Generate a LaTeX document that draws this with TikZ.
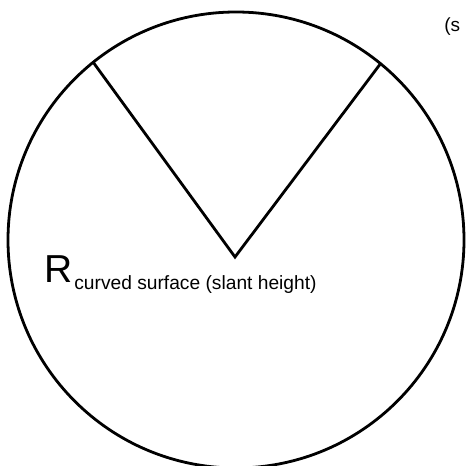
\documentclass[tikz,border=0pt]{standalone}
\usepackage{fontspec}
\setmainfont{Liberation Sans}
\begin{document}
\begin{tikzpicture}[x=1bp,y=-1bp,line width=2.8bp,
  lbl/.style={inner sep=0pt,anchor=base west}]
\useasboundingbox (0,0) rectangle (466,466);
\coordinate (c) at (236,240);
\draw (c) circle[radius=228];
\coordinate (v) at (235,257);
\coordinate (a) at (93,62);
\coordinate (b) at (381,63);
\draw (a) -- (v) -- (b);
\node[lbl] (r) at (43,282) {\fontsize{39bp}{39bp}\selectfont R};
\node[lbl] (sub) at (r.base east) [xshift=-1bp,yshift=-7bp] {\fontsize{19.2bp}{20bp}\selectfont curved surface (slant height)};
\node[lbl] (s) at (443,32) {\fontsize{19bp}{19bp}\selectfont (s};
\end{tikzpicture}
\end{document}
